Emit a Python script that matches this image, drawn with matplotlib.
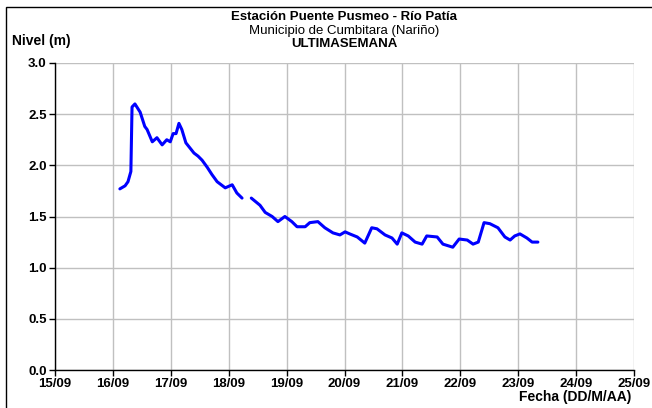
import numpy as np
import matplotlib.pyplot as plt
from matplotlib.patches import Rectangle
from matplotlib.ticker import MultipleLocator, FuncFormatter

plt.rcParams['font.family'] = ['Liberation Sans', 'DejaVu Sans']

# Hourly-ish readings, day of September (fractional) and level in metres
dias = [16.12, 16.21, 16.26, 16.31, 16.33, 16.38, 16.47, 16.55, 16.59, 16.68,
        16.76, 16.85, 16.93, 16.99, 17.04, 17.09, 17.14, 17.19, 17.26, 17.33,
        17.40, 17.47, 17.54, 17.63, 17.71, 17.80, 17.94, 18.06, 18.14, 18.23,
        18.30,
        18.39, 18.54, 18.63, 18.75, 18.85, 18.97, 19.09, 19.18, 19.32, 19.40,
        19.54, 19.66, 19.80, 19.92, 20.01, 20.09, 20.22, 20.35, 20.47, 20.56,
        20.70, 20.82, 20.91, 20.99, 21.10, 21.22, 21.34, 21.42, 21.60, 21.70,
        21.87, 21.98, 22.12, 22.22, 22.31, 22.41, 22.51, 22.65, 22.77, 22.86,
        22.94, 23.03, 23.15, 23.24, 23.34]
nivel = [1.77, 1.80, 1.84, 1.94, 2.57, 2.60, 2.52, 2.38, 2.35, 2.23,
         2.27, 2.20, 2.25, 2.23, 2.31, 2.31, 2.41, 2.35, 2.22, 2.17,
         2.12, 2.09, 2.05, 1.98, 1.91, 1.84, 1.78, 1.81, 1.73, 1.68,
         np.nan,
         1.68, 1.61, 1.54, 1.50, 1.45, 1.50, 1.45, 1.40, 1.40, 1.44,
         1.45, 1.39, 1.34, 1.32, 1.35, 1.33, 1.30, 1.24, 1.39, 1.38,
         1.32, 1.29, 1.23, 1.34, 1.31, 1.25, 1.23, 1.31, 1.30, 1.23,
         1.20, 1.28, 1.27, 1.23, 1.25, 1.44, 1.43, 1.39, 1.30, 1.27,
         1.31, 1.33, 1.29, 1.25, 1.25]

fig = plt.figure(figsize=(6.52, 4.08), dpi=100)
ax = fig.add_axes([0.0844, 0.0931, 0.888, 0.7525])

ax.plot(dias, nivel, color='#0000ff', lw=2.2, solid_capstyle='round')

ax.set_xlim(15, 25)
ax.set_ylim(0, 3)
ax.xaxis.set_major_locator(MultipleLocator(1))
ax.yaxis.set_major_locator(MultipleLocator(0.5))
ax.xaxis.set_major_formatter(FuncFormatter(lambda v, p: '%02d/09' % int(round(v))))
ax.yaxis.set_major_formatter(FuncFormatter(lambda v, p: '%.1f' % v))
ax.grid(True, color='#c0c0c0', lw=1)
ax.set_axisbelow(True)
for s in ['top', 'right']:
    ax.spines[s].set_visible(False)
for s in ['left', 'bottom']:
    ax.spines[s].set_color('black')
    ax.spines[s].set_linewidth(1)
ax.tick_params(direction='out', length=4, width=1, labelsize=9.5, pad=2)
for lbl in ax.get_xticklabels() + ax.get_yticklabels():
    lbl.set_fontweight('bold')

# chart titles
fig.text(0.528, 0.958, 'Estación Puente Pusmeo - Río Patía', ha='center',
         va='center', fontsize=9.5, fontweight='bold')
fig.text(0.528, 0.924, 'Municipio de Cumbitara (Nariño)', ha='center',
         va='center', fontsize=9.5)
fig.text(0.528, 0.892, 'ULTIMASEMANA', ha='center', va='center',
         fontsize=9.5, fontweight='bold')
fig.text(0.018, 0.900, 'Nivel (m)', ha='left', va='center', fontsize=10,
         fontweight='bold')
fig.text(0.796, 0.027, 'Fecha (DD/M/AA)', ha='left', va='center',
         fontsize=10, fontweight='bold')

# chart area border
fig.patches.append(Rectangle((0.009, -0.05), 1.2, 1.033, fill=False,
                             edgecolor='black', lw=1, transform=fig.transFigure,
                             figure=fig))

fig.savefig('out.png', dpi=100)
